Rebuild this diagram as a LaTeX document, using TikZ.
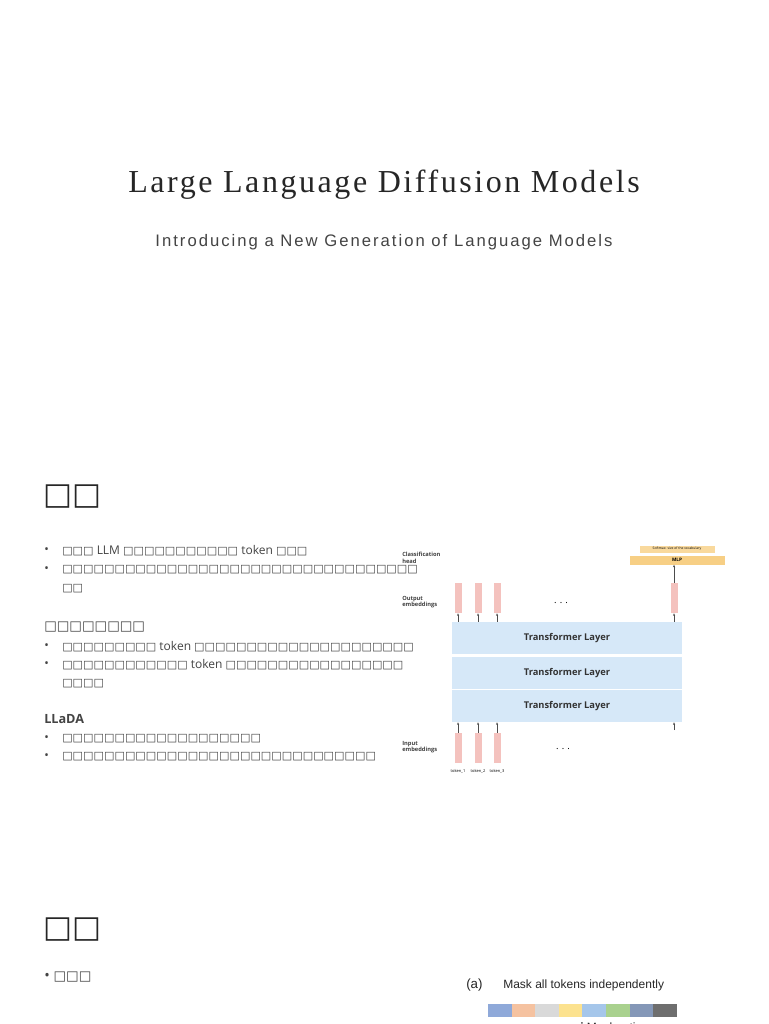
\documentclass[tikz,border=0pt]{standalone}
\usepackage{fontspec}
\usetikzlibrary{arrows.meta}
\setmainfont{Liberation Serif}
\setsansfont{Open Sans}
\newfontfamily\tofu{DejaVu Sans}
\newfontfamily\titlef[LetterSpace=8]{Liberation Serif}
\newfontfamily\subf[LetterSpace=12]{Liberation Sans}
\newcommand{\bx}[1]{{\tofu\fontsize{8.3}{10}\selectfont\foreach\i in {1,...,#1}{□}}}
\definecolor{txt}{HTML}{444444}
\definecolor{tl}{HTML}{D6E8F8}
\definecolor{pk}{HTML}{F4C2BE}
\definecolor{mlp}{HTML}{F7CF85}
\begin{document}
\begin{tikzpicture}[x=0.75pt,y=-0.75pt,
  body/.style={anchor=west,inner sep=0,font=\sffamily\fontsize{9}{11}\selectfont,text=txt},
  bul/.style={anchor=west,inner sep=0,font=\sffamily\fontsize{9}{11}\selectfont,text=txt},
  lab/.style={anchor=west,inner sep=0,align=left,font=\sffamily\fontsize{4.3}{5}\selectfont\bfseries,text=black!75},
  tlayer/.style={fill=tl,draw=none,minimum width=230*0.75pt,minimum height=32*0.75pt,inner sep=0,font=\sffamily\fontsize{7}{8}\selectfont\bfseries,text=black!80},
  emb/.style={fill=pk,draw=none,minimum width=7*0.75pt,minimum height=30*0.75pt,inner sep=0},
  ar/.style={-{Stealth[length=2pt,width=1.6pt]},line width=0.4pt,black!70}]
\useasboundingbox (0,0) rectangle (768,1024);
\clip (0,0) rectangle (768,1024);
\fill[white] (0,0) rectangle (768,1024);
\node[inner sep=0,text=black!85,font=\titlef\fontsize{24}{28}\selectfont] (title) at (384,185) {Large Language Diffusion Models};
\node[inner sep=0,text=txt,font=\subf\fontsize{12.5}{15}\selectfont] (sub) at (384,242) {Introducing a New Generation of Language Models};
% section 1
\node[anchor=west,inner sep=0,text=black!85] (h1) at (43,497) {\tofu\fontsize{23}{26}\selectfont □□};
\foreach \y in {551,570,647,665,739,757} \node[bul] at (44,\y) {\textbullet};
\node[body] (l1) at (62,551) {\bx{3} LLM \bx{11} token \bx{3}};
\node[body] (l2) at (62,570) {\bx{34}};
\node[body] (l2b) at (62,589) {\bx{2}};
\node[body] (s2) at (44,627) {\tofu\fontsize{10}{12}\selectfont □□□□□□□□};
\node[body] (l3) at (62,647) {\bx{9} token \bx{21}};
\node[body] (l4) at (62,665) {\bx{12} token \bx{17}};
\node[body] (l4b) at (62,684) {\bx{4}};
\node[body,font=\sffamily\fontsize{9.5}{11}\selectfont\bfseries] (s3) at (44,719) {LLaDA};
\node[body] (l5) at (62,739) {\bx{19}};
\node[body] (l6) at (62,757) {\bx{30}};
% diagram
\node[tlayer] (t1) at (567,638) {Transformer Layer};
\node[tlayer] (t2) at (567,673) {Transformer Layer};
\node[tlayer] (t3) at (567,706) {Transformer Layer};
\foreach \n/\x in {a/458,b/478,c/497,d/674}{
  \node[emb] (o\n) at (\x,598) {};
}
\foreach \n/\x in {a/458,b/478,c/497}{
  \node[emb] (i\n) at (\x,748) {};
  \draw[ar] (i\n.north) -- (i\n.north |- t3.south);
  \draw[ar] (o\n.south |- t1.north) -- (o\n.south);
}
\coordinate (d0) at (674,730);
\draw[ar] (d0) -- (d0 |- t3.south);
\draw[ar] (od.south |- t1.north) -- (od.south);
\node[fill=mlp,minimum width=95*0.75pt,minimum height=9*0.75pt,inner sep=0,font=\sffamily\fontsize{3.5}{4}\selectfont\bfseries] (mlp) at (677,560) {MLP};
\node[fill=mlp!80,minimum width=75*0.75pt,minimum height=7*0.75pt,inner sep=0,font=\sffamily\fontsize{2.5}{3}\selectfont] (sm) at (677,549) {Softmax: size of the vocabulary};
\draw[ar] (od.north) -- (od.north |- mlp.south);
\node[inner sep=0,font=\sffamily\fontsize{7}{8}\selectfont] (dt1) at (561,603) {. . .};
\node[inner sep=0,font=\sffamily\fontsize{7}{8}\selectfont] (dt2) at (563,749) {. . .};
\node[lab] (lc) at (402,558) {Classification\\head};
\node[lab] (lo) at (402,602) {Output\\embeddings};
\node[lab] (li) at (402,747) {Input\\embeddings};
\node[inner sep=0,font=\sffamily\fontsize{3}{4}\selectfont] (k1) at (458,771) {token\_1};
\node[inner sep=0,font=\sffamily\fontsize{3}{4}\selectfont] (k2) at (478,771) {token\_2};
\node[inner sep=0,font=\sffamily\fontsize{3}{4}\selectfont] (k3) at (497,771) {token\_3};
% section 2
\node[anchor=west,inner sep=0,text=black!85] (h2) at (43,930) {\tofu\fontsize{23}{26}\selectfont □□};
\node[body,font=\sffamily\fontsize{11}{13}\selectfont] (b2) at (44,977) {\textbullet\ \tofu\fontsize{10}{12}\selectfont □□□};
\node[anchor=west,inner sep=0,font=\fontspec{Liberation Sans}\fontsize{10}{12}\selectfont,text=black!85] (pa) at (466,985) {(a)};
\node[anchor=west,inner sep=0,font=\fontspec{Liberation Sans}\fontsize{9}{11}\selectfont,text=black!85] (ma) at (503,985) {Mask all tokens independently};
\foreach \c [count=\i from 0] in {8FA9D9,F5C2A0,D9D9D9,FCE28F,A5C6EA,A9D18E,8497B7,6E6E6E}{
  \definecolor{cc}{HTML}{\c}
  \fill[cc] (488+\i*23.6,1004) rectangle ++(23.6,13);
}
\node[anchor=west,inner sep=0,font=\fontspec{Liberation Sans}\fontsize{9}{11}\selectfont,text=black!85] (mr) at (580,1027) {\textbf{i} Mask ratio};
\end{tikzpicture}
\end{document}
